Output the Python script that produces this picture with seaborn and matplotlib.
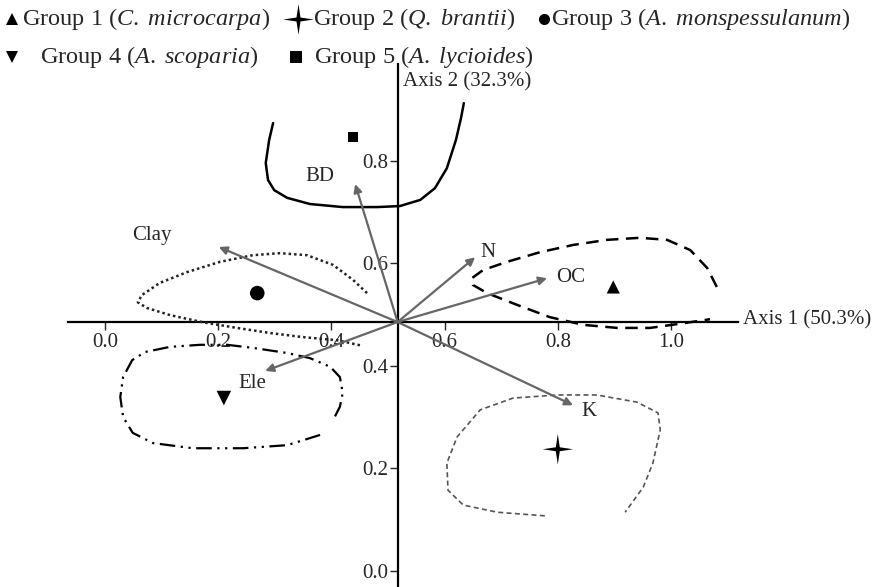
import numpy as np
import pandas as pd
import matplotlib
matplotlib.use('Agg')
import matplotlib.pyplot as plt
import seaborn as sns

# ---------------------------------------------------------------------------
# data
# ---------------------------------------------------------------------------
groups = ['Group 1', 'Group 2', 'Group 3', 'Group 4', 'Group 5']
group_x = [0.898, 0.800, 0.269, 0.210, 0.438]
group_y = [0.554, 0.237, 0.542, 0.337, 0.847]
group_labels = [r'Group 1 ($C.\ microcarpa$)', r'Group 2 ($Q.\ brantii$)',
                r'Group 3 ($A.\ monspessulanum$)', r'Group 4 ($A.\ scoparia$)',
                r'Group 5 ($A.\ lycioides$)']

# soil variable vectors (tips), all start at the axes crossing
origin = (0.517, 0.4855)
vars_names = ['BD', 'Clay', 'N', 'OC', 'K', 'Ele']
vec_x = [0.442, 0.201, 0.654, 0.781, 0.827, 0.283]
vec_y = [0.755, 0.632, 0.612, 0.571, 0.323, 0.390]
lab_x = [0.380, 0.083, 0.677, 0.822, 0.855, 0.261]
lab_y = [0.769, 0.654, 0.622, 0.573, 0.310, 0.366]

# hand drawn group envelopes
g1_x = [1.081, 1.064, 1.034, 0.993, 0.945, 0.887, 0.827, 0.769, 0.710, 0.668,
        0.648, 0.650, 0.675, 0.728, 0.786, 0.845, 0.905, 0.963, 1.021, 1.069]
g1_y = [0.554, 0.591, 0.626, 0.646, 0.650, 0.646, 0.636, 0.622, 0.603, 0.587,
        0.571, 0.558, 0.542, 0.519, 0.495, 0.480, 0.474, 0.474, 0.483, 0.491]

g2_x = [0.777, 0.693, 0.633, 0.606, 0.604, 0.622, 0.663, 0.721, 0.799, 0.869,
        0.940, 0.977, 0.981, 0.968, 0.951, 0.919]
g2_y = [0.107, 0.114, 0.128, 0.157, 0.210, 0.261, 0.314, 0.337, 0.343, 0.343,
        0.329, 0.308, 0.275, 0.210, 0.163, 0.114]

g3_x = [0.463, 0.438, 0.403, 0.357, 0.309, 0.261, 0.203, 0.145, 0.097, 0.065,
        0.058, 0.074, 0.115, 0.173, 0.233, 0.292, 0.350, 0.410, 0.451]
g3_y = [0.542, 0.568, 0.597, 0.616, 0.620, 0.616, 0.603, 0.583, 0.562, 0.538,
        0.524, 0.513, 0.499, 0.485, 0.474, 0.464, 0.456, 0.450, 0.440]

g4_x = [0.380, 0.322, 0.244, 0.155, 0.085, 0.049, 0.032, 0.027, 0.032, 0.048,
        0.071, 0.115, 0.168, 0.216, 0.261, 0.322, 0.362, 0.398, 0.415, 0.420,
        0.415, 0.403]
g4_y = [0.265, 0.245, 0.239, 0.239, 0.249, 0.269, 0.300, 0.339, 0.378, 0.411,
        0.427, 0.437, 0.441, 0.441, 0.435, 0.425, 0.415, 0.398, 0.378, 0.347,
        0.320, 0.294]

g5_x = [0.297, 0.290, 0.284, 0.288, 0.299, 0.322, 0.362, 0.420, 0.481, 0.521,
        0.557, 0.583, 0.604, 0.620, 0.629, 0.634]
g5_y = [0.874, 0.841, 0.796, 0.763, 0.743, 0.728, 0.716, 0.710, 0.710, 0.712,
        0.724, 0.747, 0.786, 0.841, 0.884, 0.913]

x_ticks = [0.0, 0.2, 0.4, 0.6, 0.8, 1.0]
y_ticks = [0.0, 0.2, 0.4, 0.6, 0.8]

# ---------------------------------------------------------------------------
# style
# ---------------------------------------------------------------------------
sns.set_style('white')
plt.rcParams['font.family'] = ['Liberation Serif', 'DejaVu Serif']
plt.rcParams['mathtext.fontset'] = 'custom'
plt.rcParams['mathtext.rm'] = 'Liberation Serif'
plt.rcParams['mathtext.it'] = 'Liberation Serif:italic'

W, H = 876, 587
fig = plt.figure(figsize=(W / 100, H / 100), dpi=100)
ax = fig.add_axes([0, 0, 1, 1])

# pixel mapping of the original: px = 105 + 566*x, py = 570.6 - 512*y
ax.set_xlim(-105 / 566, (W - 105) / 566)
ax.set_ylim((570.6 - H) / 512, 570.6 / 512)

star = [(0, 1), (0.13, 0.13), (1, 0), (0.13, -0.13), (0, -1),
        (-0.13, -0.13), (-1, 0), (-0.13, 0.13), (0, 1)]
marker_map = {'Group 1': '^', 'Group 2': star, 'Group 3': 'o',
              'Group 4': 'v', 'Group 5': 's'}
size_map = {'Group 1': 90, 'Group 2': 480, 'Group 3': 110,
            'Group 4': 110, 'Group 5': 50}

# envelopes
sns.lineplot(x=g1_x, y=g1_y, sort=False, estimator=None, ax=ax, color='black',
             lw=1.8, linestyle=(0, (5, 3)))
sns.lineplot(x=g2_x, y=g2_y, sort=False, estimator=None, ax=ax, color='#555555',
             lw=1.2, linestyle=(0, (3, 2)))
sns.lineplot(x=g3_x, y=g3_y, sort=False, estimator=None, ax=ax, color='#222222',
             lw=1.8, linestyle=(0, (1, 1.2)))
sns.lineplot(x=g4_x, y=g4_y, sort=False, estimator=None, ax=ax, color='black',
             lw=1.6, linestyle=(0, (7, 2.5, 1, 2.5, 1, 2.5)))
sns.lineplot(x=g5_x, y=g5_y, sort=False, estimator=None, ax=ax, color='black',
             lw=1.8)

# vectors
for name, vx, vy, lx, ly in zip(vars_names, vec_x, vec_y, lab_x, lab_y):
    ax.annotate('', xy=(vx, vy), xytext=origin,
                arrowprops=dict(arrowstyle='-|>', color='#666666', lw=1.6,
                                mutation_scale=12, shrinkA=0, shrinkB=0))
    ax.text(lx, ly, name, fontsize=15, ha='center', va='center')

# group centroids
df = pd.DataFrame({'x': group_x, 'y': group_y, 'group': groups})
sns.scatterplot(data=df, x='x', y='y', style='group', markers=marker_map,
                size='group', sizes=size_map, color='black', edgecolor='black',
                linewidth=0, ax=ax, legend=False, zorder=5)

# axes crossing inside the plot
for s in ['top', 'right']:
    ax.spines[s].set_visible(False)
ax.spines['left'].set_position(('data', origin[0]))
ax.spines['bottom'].set_position(('data', origin[1]))
ax.spines['left'].set_bounds((570.6 - H) / 512, 0.99)
ax.spines['bottom'].set_bounds(-0.065, 1.118)
for s in ['left', 'bottom']:
    ax.spines[s].set_linewidth(1.6)
    ax.spines[s].set_color('black')
    ax.spines[s].set_zorder(1)
ax.set_xticks(x_ticks)
ax.set_yticks(y_ticks)
ax.set_xticklabels([f'{t:.1f}' for t in x_ticks])
ax.set_yticklabels([f'{t:.1f}' for t in y_ticks])
ax.tick_params(axis='x', direction='out', length=6, width=1, pad=2,
               labelsize=15, bottom=True)
ax.tick_params(axis='y', direction='out', length=6, width=1, pad=1,
               labelsize=15, left=True)
ax.set_xlabel('')
ax.set_ylabel('')

ax.text(1.127, 0.490, 'Axis 1 (50.3%)', fontsize=15, ha='left', va='center')
ax.text(0.527, 0.954, 'Axis 2 (32.3%)', fontsize=15, ha='left', va='center')

# legend drawn at the top (pixel positions of the original)
leg_rows = [19, 19, 19, 57, 57]
leg_marker_px = [12, 298, 544, 12, 296]
leg_text_px = [22, 313, 551, 40, 314]
leg_msize = [9, 22, 8, 9, 9]
for i, g in enumerate(groups):
    fy = 1 - leg_rows[i] / H
    ax.plot(leg_marker_px[i] / W, fy, marker=marker_map[g], color='black',
            markersize=leg_msize[i], markeredgewidth=0,
            transform=ax.transAxes, clip_on=False)
    ax.text(leg_text_px[i] / W, fy, group_labels[i], fontsize=17.5,
            ha='left', va='center', transform=ax.transAxes)

fig.savefig('out.png', dpi=100)
